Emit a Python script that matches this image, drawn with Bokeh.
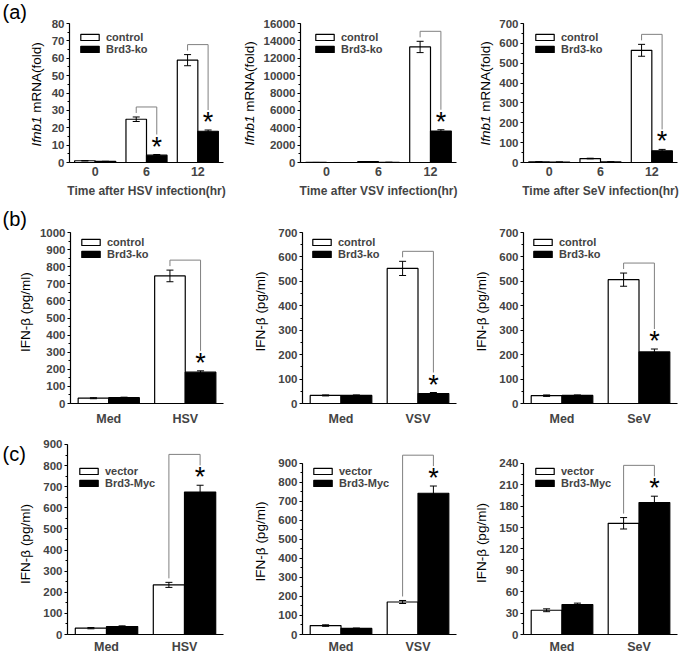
import math
from bokeh.plotting import figure
from bokeh.models import (ColumnDataSource, FactorRange, Range1d, Legend, LegendItem,
                          SingleIntervalTicker)
from bokeh.transform import dodge
from bokeh.layouts import column, row
from bokeh.embed import file_html
from bokeh.resources import INLINE
from bokeh.core.properties import value

FONT = "Liberation Sans"

# ---------------- data ----------------
time_cats = ["0", "6", "12"]
hsv_cats = ["Med", "HSV"]
vsv_cats = ["Med", "VSV"]
sev_cats = ["Med", "SeV"]

# (a) Ifnb1 mRNA (fold)
a_hsv_ctrl = [1.0, 24.9, 58.9]
a_hsv_ctrl_err = [0.1, 1.3, 3.2]
a_hsv_ko = [0.6, 4.2, 18.0]
a_hsv_ko_err = [0.1, 0.4, 0.7]

a_vsv_ctrl = [3, 90, 13300]
a_vsv_ctrl_err = [1, 10, 650]
a_vsv_ko = [2, 20, 3620]
a_vsv_ko_err = [1, 5, 150]

a_sev_ctrl = [3, 20, 565]
a_sev_ctrl_err = [0.5, 1.5, 30]
a_sev_ko = [2, 3, 59]
a_sev_ko_err = [0.5, 0.5, 7]

# (b) IFN-beta (pg/ml), control vs Brd3-ko
b_hsv_ctrl = [31, 746]
b_hsv_ctrl_err = [3, 34]
b_hsv_ko = [34, 183]
b_hsv_ko_err = [3, 8]

b_vsv_ctrl = [33, 553]
b_vsv_ctrl_err = [2, 29]
b_vsv_ko = [33, 41]
b_vsv_ko_err = [2, 4]

b_sev_ctrl = [32, 507]
b_sev_ctrl_err = [3, 27]
b_sev_ko = [33, 211]
b_sev_ko_err = [2, 12]

# (c) IFN-beta (pg/ml), vector vs Brd3-Myc
c_hsv_vec = [30, 235]
c_hsv_vec_err = [3, 12]
c_hsv_myc = [38, 675]
c_hsv_myc_err = [3, 32]

c_vsv_vec = [47, 171]
c_vsv_vec_err = [4, 8]
c_vsv_myc = [32, 743]
c_vsv_myc_err = [2, 38]

c_sev_vec = [34, 156]
c_sev_vec_err = [2, 8]
c_sev_myc = [42, 185]
c_sev_myc_err = [2, 9]

names_ko = ["control", "Brd3-ko"]
names_myc = ["vector", "Brd3-Myc"]

ylab_a = ["Ifnb1", "mRNA(fold)"]
ylab_bc = "IFN-\u03b2 (pg/ml)"

LEG_H = 28
TFS = 13.5  # y title font size


def helper(w, h):
    f = figure(width=w, height=h, x_range=Range1d(0, w), y_range=Range1d(0, h),
               output_backend="svg", toolbar_location=None, title=None,
               min_border_left=0, min_border_right=0, min_border_top=0, min_border_bottom=0,
               x_axis_type=None, y_axis_type=None)
    f.outline_line_color = None
    f.grid.visible = False
    try:
        f.frame_align = False
    except Exception:
        pass
    return f


def htext(f, x, y, txt, size, style="normal", angle=0.0, align="left"):
    f.text(x=[x], y=[y], text=[txt], angle=angle, text_font=value(FONT),
           text_font_size=value(size), text_font_style=value(style),
           text_align=value(align), text_baseline=value("alphabetic"),
           text_color="black")


def panel(cats, cv, ce, kv, ke, sig, names, top_tick, step, axis_px,
          hw, width, height, bl, br, bt, bb, leg_dx, leg_dy,
          xlab=None, xstand=5, title_c=0, title_y=0, title_a=False, tag=None, tag_y=0):
    # helper canvas with the y title and panel tag
    h = helper(hw, height)
    bx = title_c - 2.5
    fs = "%gpx" % TFS
    if title_a:
        htext(h, bx, title_y, ylab_a[0], fs, "italic", math.pi / 2)
        htext(h, bx, title_y + 2.224 * TFS + 0.278 * TFS, ylab_a[1], fs, "normal", math.pi / 2)
    else:
        htext(h, bx, title_y, ylab_bc, fs, "normal", math.pi / 2, "center")
    if tag is not None:
        htext(h, 2, tag_y, tag, "20px")

    fh = height - bt - bb
    y_end = top_tick * fh / axis_px
    p = figure(width=width, height=height, x_range=FactorRange(factors=cats),
               y_range=Range1d(0, y_end), output_backend="svg", toolbar_location=None,
               title=None, min_border_left=bl, min_border_right=br, min_border_top=bt,
               min_border_bottom=bb)
    p.outline_line_color = None
    p.grid.visible = False
    upp = y_end / fh

    src = ColumnDataSource(dict(
        cat=cats, c=cv, k=kv,
        c_lo=[v - e for v, e in zip(cv, ce)], c_hi=[v + e for v, e in zip(cv, ce)],
        k_lo=[v - e for v, e in zip(kv, ke)], k_hi=[v + e for v, e in zip(kv, ke)]))
    xl = dodge("cat", -0.2, range=p.x_range)
    xr = dodge("cat", 0.2, range=p.x_range)
    r_c = p.vbar(x=xl, top="c", width=0.4, source=src, fill_color="white",
                 line_color="black", line_width=1.2)
    r_k = p.vbar(x=xr, top="k", width=0.4, source=src, fill_color="black",
                 line_color="black", line_width=1.2)
    for xx, lo, hi in ((xl, "c_lo", "c_hi"), (xr, "k_lo", "k_hi")):
        p.segment(x0=xx, y0=lo, x1=xx, y1=hi, source=src, line_color="black", line_width=1)
        p.scatter(x=xx, y=hi, marker="dash", size=7, line_color="black", line_width=1, source=src)
        p.scatter(x=xx, y=lo, marker="dash", size=7, line_color="black", line_width=1, source=src)

    # significance brackets and asterisks
    bd = dict(cat=[], top=[], lb=[], rb=[], star=[], txt=[])
    for s in sig:
        i = cats.index(s)
        ch = cv[i] + ce[i]
        kh = kv[i] + ke[i]
        bd["cat"].append(s)
        bd["top"].append(max(ch + 10 * upp, kh + 31 * upp))
        bd["lb"].append(ch + 4 * upp)
        bd["rb"].append(kh + 20 * upp)
        bd["star"].append(kh + 8 * upp)
        bd["txt"].append("*")
    bs = ColumnDataSource(bd)
    gray = "#808080"
    p.segment(x0=xl, y0="lb", x1=xl, y1="top", source=bs, line_color=gray, line_width=1)
    p.segment(x0=xl, y0="top", x1=xr, y1="top", source=bs, line_color=gray, line_width=1)
    p.segment(x0=xr, y0="top", x1=xr, y1="rb", source=bs, line_color=gray, line_width=1)
    p.text(x=xr, y="star", text="txt", source=bs, text_align=value("center"),
           text_baseline=value("alphabetic"), text_font_size=value("27px"),
           text_color="black", text_font=value(FONT))

    # axes
    ya = p.yaxis[0]
    ya.ticker = SingleIntervalTicker(interval=step, num_minor_ticks=2)
    ya.bounds = (0, top_tick)
    ya.major_label_text_font = FONT
    ya.major_label_text_font_size = "11.5px"
    ya.major_label_text_font_style = "bold"
    ya.major_label_standoff = 2
    ya.major_tick_out = 3
    ya.major_tick_in = 0
    ya.minor_tick_out = 2
    ya.minor_tick_in = 0
    ya.axis_line_width = 1.2
    ya.major_tick_line_width = 1.2

    xa = p.xaxis[0]
    xa.major_tick_line_color = None
    xa.major_tick_out = 0
    xa.major_tick_in = 0
    xa.major_label_text_font = FONT
    xa.major_label_text_font_size = "12.5px"
    xa.major_label_text_font_style = "bold"
    xa.major_label_standoff = xstand
    xa.axis_line_width = 1.2
    if xlab is not None:
        xa.axis_label = xlab
        xa.axis_label_text_font = FONT
        xa.axis_label_text_font_size = "12px"
        xa.axis_label_text_font_style = "bold"
        xa.axis_label_standoff = 5

    leg = Legend(items=[LegendItem(label=names[0], renderers=[r_c]),
                        LegendItem(label=names[1], renderers=[r_k])],
                 location=(leg_dx, fh - leg_dy - LEG_H))
    leg.label_text_font = FONT
    leg.label_text_font_size = "11px"
    leg.label_text_font_style = "bold"
    leg.glyph_width = 23
    leg.glyph_height = 8
    leg.label_height = 12
    leg.label_standoff = 5
    leg.spacing = 0
    leg.padding = 0
    leg.margin = 0
    leg.border_line_color = None
    leg.background_fill_alpha = 0
    p.add_layout(leg)
    return [h, p]


RA = dict(height=206, bt=23, bb=44, xstand=4)
RB = dict(height=224, bt=26, bb=27, xstand=8)
RC = dict(height=226, bt=13, bb=21, xstand=5)

a1 = panel(time_cats, a_hsv_ctrl, a_hsv_ctrl_err, a_hsv_ko, a_hsv_ko_err, ["6", "12"], names_ko,
           80, 10, 139, hw=48, width=180, bl=19, br=5, leg_dx=9, leg_dy=4,
           xlab="Time after HSV infection(hr)", title_c=38, title_y=60, title_a=True,
           tag="(a)", tag_y=194.8, **RA)
a2 = panel(time_cats, a_vsv_ctrl, a_vsv_ctrl_err, a_vsv_ko, a_vsv_ko_err, ["12"], names_ko,
           16000, 2000, 139, hw=32, width=201, bl=37, br=5, leg_dx=13, leg_dy=4,
           xlab="Time after VSV infection(hr)", title_c=23.5, title_y=61, title_a=True, **RA)
a3 = panel(time_cats, a_sev_ctrl, a_sev_ctrl_err, a_sev_ko, a_sev_ko_err, ["12"], names_ko,
           700, 100, 139, hw=35, width=188, bl=26, br=7, leg_dx=10, leg_dy=4,
           xlab="Time after SeV infection(hr)", title_c=26, title_y=61, title_a=True, **RA)

b1 = panel(hsv_cats, b_hsv_ctrl, b_hsv_ctrl_err, b_hsv_ko, b_hsv_ko_err, ["HSV"], names_ko,
           1000, 100, 171, hw=36, width=192, bl=31, br=5, leg_dx=9, leg_dy=0,
           title_c=27.5, title_y=118.4, tag="(b)", tag_y=211.8, **RB)
b2 = panel(vsv_cats, b_vsv_ctrl, b_vsv_ctrl_err, b_vsv_ko, b_vsv_ko_err, ["VSV"], names_ko,
           700, 100, 171, hw=44, width=189, bl=30, br=5, leg_dx=8, leg_dy=0,
           title_c=34.5, title_y=119, **RB)
b3 = panel(sev_cats, b_sev_ctrl, b_sev_ctrl_err, b_sev_ko, b_sev_ko_err, ["SeV"], names_ko,
           700, 100, 171, hw=33, width=190, bl=29, br=7, leg_dx=8, leg_dy=0,
           title_c=22, title_y=119, **RB)

c1 = panel(hsv_cats, c_hsv_vec, c_hsv_vec_err, c_hsv_myc, c_hsv_myc_err, ["HSV"], names_myc,
           900, 100, 191, hw=40, width=188, bl=27, br=5, leg_dx=10, leg_dy=19,
           title_c=27, title_y=112.5, tag="(c)", tag_y=202.8, **RC)
c2 = panel(vsv_cats, c_vsv_vec, c_vsv_vec_err, c_vsv_myc, c_vsv_myc_err, ["VSV"], names_myc,
           900, 100, 172, hw=44, width=189, bl=30, br=5, leg_dx=9, leg_dy=19,
           title_c=34.5, title_y=115, **RC)
c3 = panel(sev_cats, c_sev_vec, c_sev_vec_err, c_sev_myc, c_sev_myc_err, ["SeV"], names_myc,
           240, 30, 172, hw=33, width=190, bl=29, br=7, leg_dx=10, leg_dy=19,
           title_c=22, title_y=113.5, **RC)

layout = column(row(*a1, *a2, *a3), row(*b1, *b2, *b3), row(*c1, *c2, *c3))

open("out.html", "w").write(file_html(layout, INLINE))
